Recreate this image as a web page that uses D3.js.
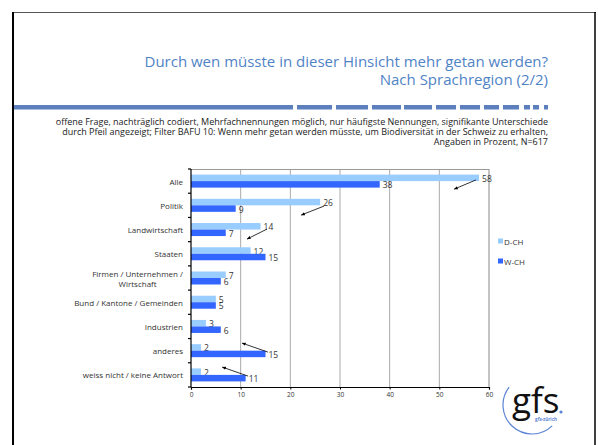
<!DOCTYPE html>
<html><head><meta charset="utf-8">
<script src="https://cdn.jsdelivr.net/npm/d3@7"></script>
<style>body{margin:0;background:#fff}svg{display:block}text{font-family:"Open Sans",sans-serif}</style>
</head><body>
<script>
const categories = ["Alle","Politik","Landwirtschaft","Staaten","Firmen / Unternehmen /\nWirtschaft","Bund / Kantone / Gemeinden","Industrien","anderes","weiss nicht / keine Antwort"];
const seriesNames = ["D-CH","W-CH"];
const dch = [58,26,14,12,7,5,3,2,2];
const wch = [38,9,7,15,6,5,6,15,11];
const xTicks = [0,10,20,30,40,50,60];
// significance arrows: [category, fromValue, fromBandPos, toValue, toBandPos]
const arrows = [
  ["Alle",57.4,0.45,53,0.83],
  ["Politik",26.8,0.53,22.2,0.90],
  ["Landwirtschaft",15.3,0.48,11.3,0.89],
  ["anderes",15.5,0.56,10.3,0.19],
  ["weiss nicht / keine Antwort",11.5,0.55,6.3,0.18]
];
const titleLines = ["Durch wen müsste in dieser Hinsicht mehr getan werden?","Nach Sprachregion (2/2)"];
const noteLines = ["offene Frage, nachträglich codiert, Mehrfachnennungen möglich, nur häufigste Nennungen, signifikante Unterschiede",
"durch Pfeil angezeigt; Filter BAFU 10: Wenn mehr getan werden müsste, um Biodiversität in der Schweiz zu erhalten,",
"Angaben in Prozent, N=617"];
const colors = ["#99ccff","#3366ff"];

const W=598,H=445;
const svg=d3.select("body").append("svg").attr("width",W).attr("height",H);

// frame
svg.append("line").attr("x1",13).attr("x2",596).attr("y1",12.5).attr("y2",12.5).attr("stroke","#555").attr("stroke-width",1);
svg.append("line").attr("x1",13).attr("x2",13).attr("y1",12).attr("y2",H).attr("stroke","#000").attr("stroke-width",2);
svg.append("line").attr("x1",595).attr("x2",595).attr("y1",12).attr("y2",H).attr("stroke","#000").attr("stroke-width",1.5);

// title
svg.selectAll("text.title").data(titleLines).join("text").attr("class","title")
  .attr("x",548).attr("y",(d,i)=>67+i*18).attr("text-anchor","end")
  .attr("font-size",15).attr("fill","#5083c6").text(d=>d);

// dashed separator
const bar = "#5b80bd";
svg.append("rect").attr("x",14).attr("y",105).attr("width",279).attr("height",4.5).attr("fill",bar);
const dashes=[[297,332],[336,368],[372,401],[404,432],[436,456],[460,480],[484,499],[503,519],[524,530],[533,539],[544,548]];
svg.selectAll("rect.dash").data(dashes).join("rect").attr("class","dash")
  .attr("x",d=>d[0]).attr("y",105).attr("width",d=>d[1]-d[0]).attr("height",4.5).attr("fill",bar);

// notes
svg.selectAll("text.note").data(noteLines).join("text").attr("class","note")
  .attr("x",548).attr("y",(d,i)=>124.5+i*10.3).attr("text-anchor","end")
  .attr("font-size",9).attr("fill","#222").text(d=>d);

// scales
const x=d3.scaleLinear().domain([0,60]).range([191,489]);
const y=d3.scaleBand().domain(categories).range([169,387]);
const bh=6.5;

// grid
const g=svg.append("g");
g.selectAll("line.grid").data(xTicks.slice(1)).join("line").attr("class","grid")
  .attr("x1",d=>x(d)).attr("x2",d=>x(d)).attr("y1",169).attr("y2",387)
  .attr("stroke",d=>d===60?"#888":"#aaa").attr("stroke-width",1);
g.append("line").attr("x1",x(0)).attr("x2",x(60)).attr("y1",169.5).attr("y2",169.5).attr("stroke","#999");

// bars
const data=categories.map((c,i)=>({c,v:[dch[i],wch[i]]}));
const grp=g.selectAll("g.cat").data(data).join("g").attr("class","cat");
[0,1].forEach(s=>{
  grp.append("rect").attr("x",x(0)).attr("y",d=>y(d.c)+y.bandwidth()/2-bh+s*bh)
    .attr("width",d=>x(d.v[s])-x(0)).attr("height",bh).attr("fill",colors[s]);
  grp.append("text").attr("x",d=>x(d.v[s])+3).attr("y",d=>y(d.c)+y.bandwidth()/2-bh/2+s*bh+0.5)
    .attr("dominant-baseline","central").attr("font-size",8.5).attr("fill","#333").text(d=>d.v[s]);
});

// axes
const xa=svg.append("g").attr("transform","translate(0,387)")
  .call(d3.axisBottom(x).tickValues(xTicks).tickSize(2.5).tickPadding(3));
xa.select(".domain").attr("stroke","#000").attr("stroke-width",1.2);
xa.selectAll("text").attr("font-size",6.5).attr("fill","#333").attr("font-family","Open Sans");
const ya=svg.append("g").attr("transform","translate(191,0)");
ya.append("line").attr("x1",0).attr("x2",0).attr("y1",169).attr("y2",387).attr("stroke","#000").attr("stroke-width",1.2);
const bounds=categories.map(c=>y(c)).concat([387]);
ya.selectAll("line.t").data(bounds).join("line").attr("class","t").attr("x1",-3).attr("x2",0)
  .attr("y1",d=>d).attr("y2",d=>d).attr("stroke","#000").attr("stroke-width",1.2);
categories.forEach(c=>{
  const lines=c.split("\n");
  const cy=y(c)+y.bandwidth()/2;
  if(lines.length===1){
    ya.append("text").attr("x",-8).attr("y",cy).attr("dominant-baseline","central")
      .attr("text-anchor","end").attr("font-size",8).attr("fill","#333").text(c);
  } else {
    const t=ya.append("text").attr("font-size",8).attr("fill","#333").attr("text-anchor","middle");
    const tmp=ya.append("text").attr("font-size",8).text(lines[0]);
    const w=tmp.node().getComputedTextLength(); tmp.remove();
    lines.forEach((l,i)=>t.append("tspan").attr("x",-8-w/2).attr("y",cy+(i-(lines.length-1)/2)*10)
      .attr("dominant-baseline","central").text(l));
  }
});

// arrows
svg.append("defs").append("marker").attr("id","ah").attr("viewBox","0 0 10 10").attr("refX",9).attr("refY",5)
  .attr("markerWidth",5).attr("markerHeight",5).attr("orient","auto")
  .append("path").attr("d","M0,1 L10,5 L0,9 Z").attr("fill","#000");
svg.selectAll("line.arr").data(arrows).join("line").attr("class","arr")
  .attr("x1",d=>x(d[1])).attr("y1",d=>y(d[0])+d[2]*y.bandwidth())
  .attr("x2",d=>x(d[3])).attr("y2",d=>y(d[0])+d[4]*y.bandwidth())
  .attr("stroke","#000").attr("stroke-width",0.8).attr("marker-end","url(#ah)");

// legend
const lg=svg.selectAll("g.lg").data(seriesNames).join("g").attr("class","lg")
  .attr("transform",(d,i)=>`translate(498,${241+i*20})`);
lg.append("rect").attr("x",0).attr("y",-2.5).attr("width",5).attr("height",5).attr("fill",(d,i)=>colors[i]);
lg.append("text").attr("x",6).attr("y",0).attr("dominant-baseline","central").attr("font-size",8).attr("fill","#333").text(d=>d);

// logo
const logo=svg.append("g");
logo.append("path").attr("transform","translate(532,405)")
  .attr("d",d3.arc().innerRadius(29).outerRadius(29).startAngle(136*Math.PI/180).endAngle(308*Math.PI/180)())
  .attr("fill","none").attr("stroke","#5b83d6").attr("stroke-width",1.2);
logo.append("text").attr("x",512).attr("y",413).attr("font-family","Liberation Serif, serif").attr("font-size",35)
  .attr("fill","#111").text("gfs");
logo.append("circle").attr("cx",561).attr("cy",412).attr("r",1.6).attr("fill","#5b83d6");
logo.append("text").attr("x",546).attr("y",421).attr("text-anchor","middle").attr("font-size",4.5).attr("font-weight","bold")
  .attr("fill","#5b83d6").text("gfs-zürich");
</script>
</body></html>
